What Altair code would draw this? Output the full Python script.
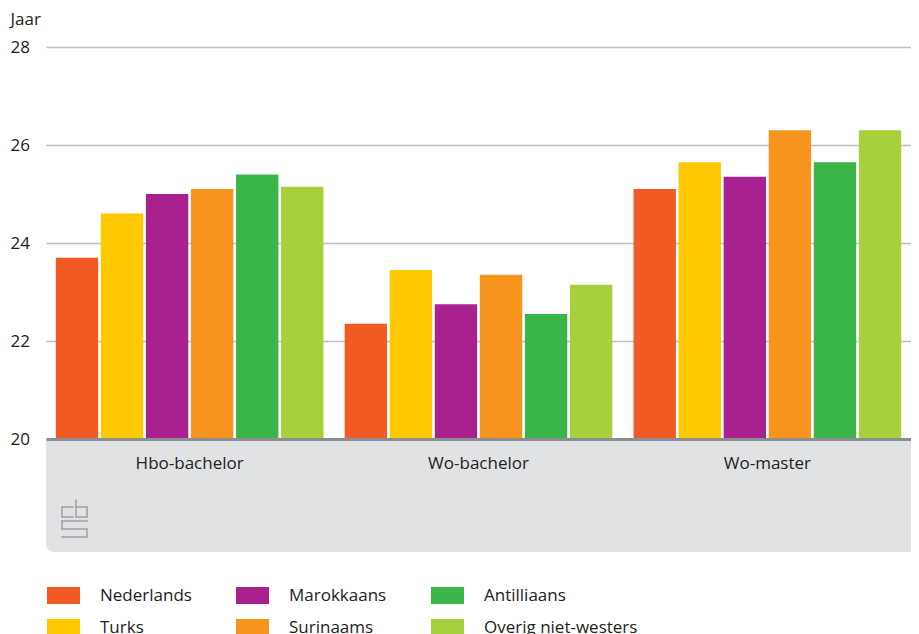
import altair as alt
import pandas as pd

categories = ["Hbo-bachelor", "Wo-bachelor", "Wo-master"]
series = ["Nederlands", "Turks", "Marokkaans", "Surinaams", "Antilliaans", "Overig niet-westers"]
legend_order = ["Nederlands", "Marokkaans", "Antilliaans", "Turks", "Surinaams", "Overig niet-westers"]
colors = {
    "Nederlands": "#f15a22",
    "Turks": "#ffc800",
    "Marokkaans": "#a8218e",
    "Surinaams": "#f7941d",
    "Antilliaans": "#39b54a",
    "Overig niet-westers": "#a8cf3c",
}
values = {
    "Nederlands": [23.7, 22.35, 25.1],
    "Turks": [24.6, 23.45, 25.65],
    "Marokkaans": [25.0, 22.75, 25.35],
    "Surinaams": [25.1, 23.35, 26.3],
    "Antilliaans": [25.4, 22.55, 25.65],
    "Overig niet-westers": [25.15, 23.15, 26.3],
}
y_ticks = [20, 22, 24, 26, 28]

rows = []
for s in series:
    for c, v in zip(categories, values[s]):
        rows.append({"opleiding": c, "herkomst": s, "jaar": v})
df = pd.DataFrame(rows)

W = 865
H = 392
FONT = "Open Sans"
FS = 17
one = pd.DataFrame({"a": [0]})

box = alt.Chart(one).mark_rect(
    color="#e1e2e4", cornerRadiusBottomLeft=8, clip=False
).encode(
    x=alt.value(0), x2=alt.value(W + 10), y=alt.value(H), y2=alt.value(H + 113)
)

bars = alt.Chart(df).mark_bar().encode(
    x=alt.X("opleiding:N", sort=categories,
            scale=alt.Scale(paddingInner=0.0735, paddingOuter=0.034),
            axis=alt.Axis(title=None, labelAngle=0, labelFontSize=FS, labelColor="#222",
                          labelFont=FONT, labelPadding=16, ticks=False, tickSize=0,
                          domainColor="#8c8e91", domainWidth=3, grid=False, zindex=1)),
    xOffset=alt.XOffset("herkomst:N", sort=series, scale=alt.Scale(paddingInner=0.06)),
    y=alt.Y("jaar:Q", scale=alt.Scale(domain=[20, 28], nice=False, zero=False),
            axis=alt.Axis(values=y_ticks, title="Jaar", titleAngle=0, titleAlign="left",
                          titleBaseline="middle", titleX=-36, titleY=-28, titleFontSize=FS,
                          titleFontWeight="normal", titleColor="#222", titleFont=FONT,
                          labelAlign="left", labelPadding=36, labelFontSize=FS, labelFont=FONT,
                          labelColor="#222", ticks=False, tickSize=0, domain=False,
                          gridColor="#bdbdbd", gridWidth=1.5)),
    y2=alt.datum(20),
    color=alt.Color("herkomst:N",
                    scale=alt.Scale(domain=legend_order, range=[colors[s] for s in legend_order]),
                    legend=alt.Legend(title=None, orient="none", legendX=1, legendY=532,
                                      columns=3, direction="horizontal",
                                      symbolType="M-1,-0.515H1V0.515H-1Z", symbolSize=1089,
                                      symbolStrokeWidth=0, symbolOpacity=1,
                                      labelFontSize=FS, labelFont=FONT, labelColor="#222",
                                      labelOffset=20, columnPadding=44, rowPadding=7)),
)

# cbs logo (decoration), drawn as line segments in pixel space of the plot
ox, oy = 62 - 46, 500 - 47
segs = [
    (11, 7, 0, 7), (0, 7, 0, 17), (0, 17, 11, 17),
    (14, 0, 14, 17), (14, 17, 25, 17), (25, 17, 25, 7), (25, 7, 14, 7),
    (25, 21, 0, 21), (0, 21, 0, 29), (0, 29, 25, 29), (25, 29, 25, 37), (25, 37, 0, 37),
]
logo_layers = []
for x1, y1, x2, y2 in segs:
    logo_layers.append(
        alt.Chart(one).mark_rule(color="#a3a5a8", strokeWidth=1.6, clip=False,
                                 strokeCap="square").encode(
            x=alt.value(ox + x1), x2=alt.value(ox + x2),
            y=alt.value(oy + y1), y2=alt.value(oy + y2))
    )

chart = alt.layer(box, bars, *logo_layers).properties(
    width=W, height=H,
    autosize=alt.AutoSizeParams(type="none"),
    padding={"left": 38, "top": 39, "right": 0, "bottom": 215},
    background="white",
).configure_view(stroke=None)

chart.save("out.html", embed_options={"renderer": "svg", "actions": False})
